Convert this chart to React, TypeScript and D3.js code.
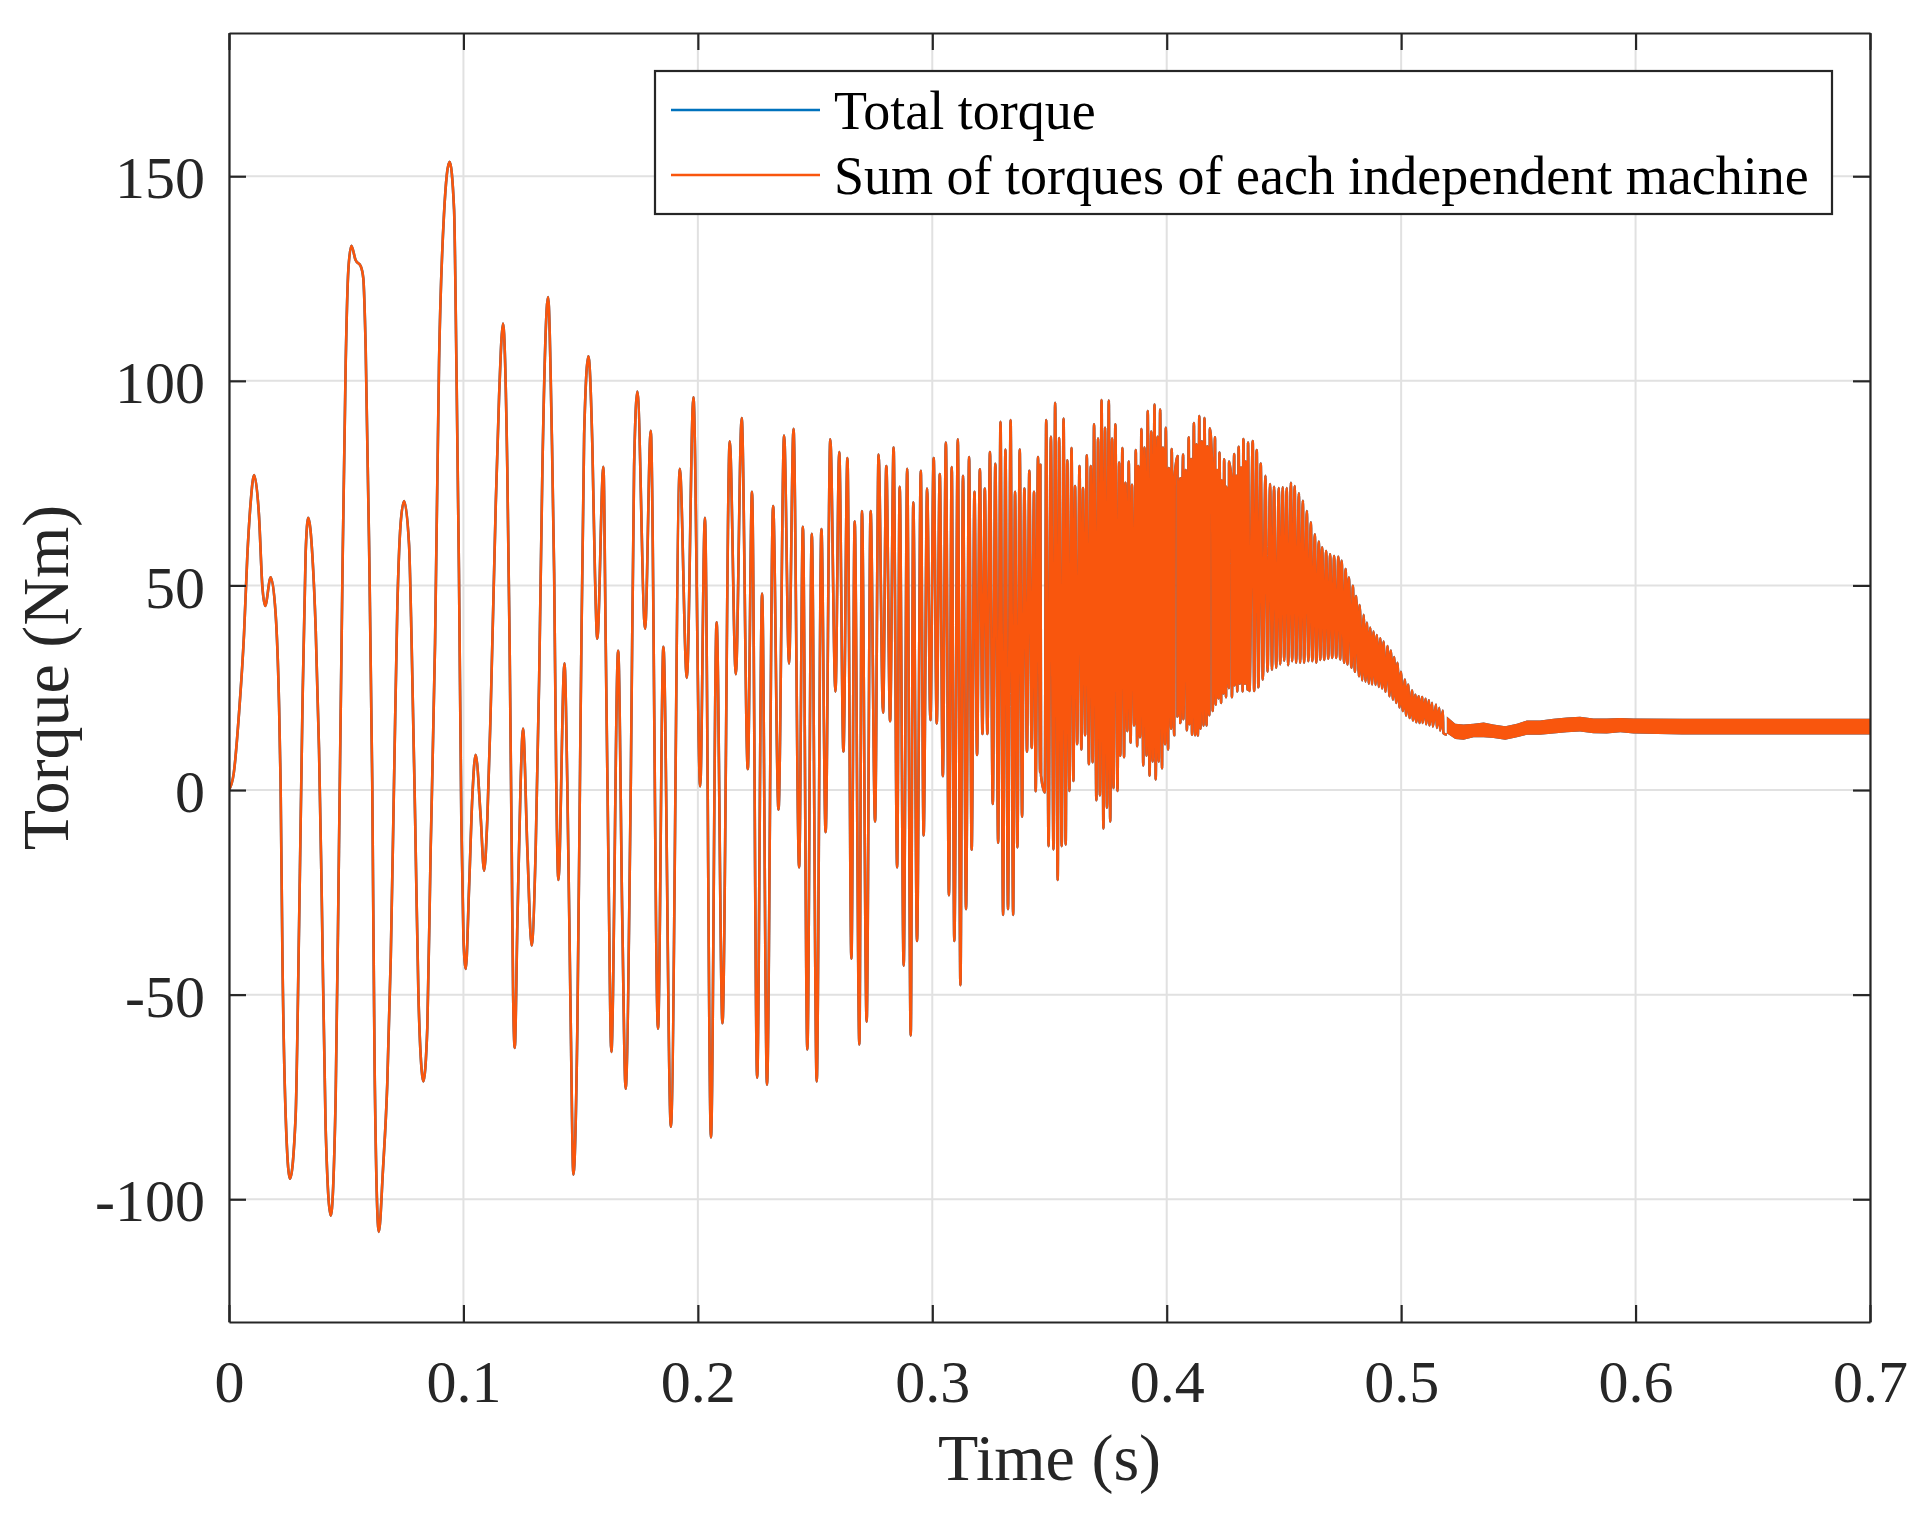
import { useEffect, useRef } from "react";
import * as d3 from "d3";

type Pt = [number, number];

const xTicks = [0, 0.1, 0.2, 0.3, 0.4, 0.5, 0.6, 0.7];
const yTicks = [-100, -50, 0, 50, 100, 150];

const seriesNames = ["Total torque", "Sum of torques of each independent machine"];
const seriesColors = ["#0072bd", "#f9560d"];

// start-up swing (t in s, torque in Nm)
const earlyPts: Pt[] = [
  [0, 0], [0.002, 4], [0.0043, 19], [0.0064, 38], [0.0078, 57], [0.0092, 70], [0.0107, 77],
  [0.0128, 67], [0.0142, 50], [0.0154, 45], [0.0178, 52], [0.0199, 43], [0.0213, 22], [0.022, 2],
  [0.0228, -41], [0.0242, -80], [0.026, -95], [0.0284, -80], [0.0299, -33], [0.0313, 19],
  [0.0327, 58], [0.0338, 66.5], [0.0356, 57], [0.037, 39], [0.0384, 10], [0.0395, -24],
  [0.0412, -82], [0.0434, -104], [0.0455, -75], [0.0469, -15], [0.0484, 53], [0.0498, 105],
  [0.0509, 127], [0.0522, 133], [0.054, 129.5], [0.0562, 128], [0.0573, 125], [0.0583, 108],
  [0.0597, 62], [0.0611, 2], [0.0621, -67], [0.0639, -108], [0.0657, -92.6], [0.0675, -72],
  [0.069, -41], [0.0704, 2], [0.0718, 44.6], [0.0732, 65], [0.0747, 70.6], [0.0768, 60],
  [0.0779, 36], [0.0794, -7], [0.0808, -50], [0.0822, -68.6], [0.0829, -71.2], [0.0846, -58],
  [0.086, -15], [0.0879, 36], [0.0896, 104.6], [0.0917, 140.6], [0.0941, 153.5], [0.096, 142],
  [0.097, 104.6], [0.0981, 53], [0.0991, -7], [0.1, -36], [0.101, -43.7], [0.1024, -24],
  [0.1038, -1.7], [0.1052, 8.6], [0.1074, -7], [0.1088, -19.7], [0.1102, -7], [0.1116, 19],
  [0.1138, 70], [0.1152, 96], [0.1169, 114], [0.1187, 79], [0.1197, 36], [0.1206, -15],
  [0.1212, -50], [0.1219, -63], [0.123, -33], [0.1244, 1.7], [0.1254, 15], [0.1273, -15],
  [0.1291, -38], [0.1308, -15], [0.1323, 27], [0.1337, 79], [0.1361, 120.5], [0.1377, 87],
  [0.1387, 53], [0.1396, 2], [0.1405, -22], [0.1431, 31], [0.1443, 2], [0.1458, -58],
  [0.1469, -94], [0.1486, -58], [0.15, 19], [0.1515, 87], [0.1533, 106], [0.155, 84],
  [0.1561, 53], [0.1571, 37], [0.1597, 79], [0.1607, 36], [0.1618, -15], [0.1631, -64],
  [0.166, 34], [0.1678, -33], [0.1692, -73], [0.1714, 2], [0.1728, 79], [0.1742, 97.4],
  [0.1775, 39.4],
];

// peaks and troughs of the middle stretch
const midPts: Pt[] = [
  [0.1799, 87.8], [0.183, -58.3], [0.1853, 35], [0.1885, -82.3], [0.1923, 78.5], [0.1953, 27.4],
  [0.1981, 96], [0.201, 0.9], [0.203, 66.5], [0.2056, -84.9], [0.208, 41], [0.2105, -57],
  [0.2136, 85.2], [0.2162, 28.3], [0.2187, 90.9], [0.2213, 5.1], [0.2231, 72.9], [0.2253, -70.3],
  [0.2274, 48], [0.2295, -72], [0.2321, 69.4], [0.2344, -4.8], [0.2368, 86.6], [0.2389, 30.9],
  [0.2408, 88.3], [0.2432, -18.9], [0.2448, 64.3], [0.2467, -63.4], [0.2486, 62.6], [0.2507, -71.2],
  [0.2527, 63.8], [0.2545, -10.3], [0.2565, 85.7], [0.2587, 24], [0.2603, 82.6], [0.2621, 9.4],
  [0.2638, 81.1], [0.2655, -41.2], [0.2669, 65.7], [0.2689, -62.2], [0.27, 68.2], [0.272, -56.6],
  [0.2737, 68.2], [0.2756, -7.7], [0.2771, 82], [0.279, 18.9], [0.2804, 79.2], [0.282, 16.8],
  [0.2835, 83.7], [0.285, -18.9], [0.2861, 74.1], [0.2878, -42.9], [0.2893, 78.5], [0.2908, -60],
  [0.2919, 70.3], [0.2935, -36.9], [0.2951, 78], [0.2963, -11.1], [0.2978, 73.7], [0.2992, 17.1],
  [0.3006, 81.1], [0.3019, 16.3], [0.3032, 77.2], [0.3045, 3.4], [0.3058, 84.9], [0.3071, -25.7],
  [0.3083, 78.9], [0.3094, -36.9], [0.3109, 85.7], [0.312, -47.7], [0.3131, 76.8], [0.3144, -29.1],
  [0.3157, 81.4], [0.3168, -14.6], [0.318, 72.9], [0.3191, 8.6], [0.3203, 78.4], [0.3214, 13.7],
  [0.3224, 73.7], [0.3235, 13.7], [0.3246, 82.6], [0.3258, -3.4], [0.3269, 79.7], [0.3281, -12.9],
  [0.3291, 90], [0.3302, -30.5], [0.3312, 83.2], [0.3323, -29.1], [0.3334, 90.4], [0.3345, -30.5],
  [0.3353, 72.9], [0.3363, -14], [0.3373, 83.2], [0.3383, -6.5], [0.3393, 73.7], [0.3404, 9.4],
  [0.3414, 78], [0.3424, 10.3], [0.3434, 72.9], [0.3441, -0.3], [0.3451, 81.4], [0.346, 4.3],
];

// dense stretch: tops of the ripple
const densePeaks: Pt[] = [
  [0.3461, 79.5], [0.3486, 90.4], [0.3506, 86.3], [0.3524, 94.6], [0.3541, 86], [0.356, 90.8],
  [0.3576, 80.6], [0.3594, 83.6], [0.3609, 74.3], [0.3628, 79.2], [0.3643, 73.8], [0.3659, 81.8],
  [0.3676, 79.2], [0.369, 89.4], [0.3707, 85.9], [0.3722, 95.3], [0.3737, 88.5], [0.3753, 95.2],
  [0.3767, 85.9], [0.3781, 89.4], [0.3797, 80], [0.3811, 83.6], [0.3824, 75.1], [0.3838, 80.3],
  [0.3852, 74.6], [0.3868, 83.1], [0.3879, 79.2], [0.3892, 88.2], [0.3905, 83.7], [0.3919, 92.6],
  [0.3934, 87.6], [0.3948, 94.2], [0.3961, 86.3], [0.3972, 93], [0.3984, 83.7], [0.3996, 88.5],
  [0.4009, 78.7], [0.4021, 83.3], [0.4034, 76.5], [0.4046, 81.6], [0.4058, 76.2], [0.407, 82],
  [0.4081, 78.2], [0.4094, 86.2], [0.4104, 80.9], [0.4116, 89.7], [0.4127, 84.5], [0.4139, 91.4],
  [0.415, 85.2], [0.4161, 90.9], [0.4173, 84], [0.4184, 88.4], [0.4194, 78.2], [0.4206, 86.2],
  [0.4215, 78.2], [0.4225, 82.5], [0.4235, 75.6], [0.4245, 80.8], [0.4255, 74.1], [0.4266, 80.3],
  [0.4276, 75.6], [0.4288, 82.1], [0.4297, 76.8], [0.4307, 83.9], [0.4317, 78.8], [0.4327, 85.8],
  [0.4337, 80.3], [0.4347, 84.9], [0.4367, 85.3], [0.4384, 83.1], [0.4401, 79.8], [0.4421, 76.8],
  [0.4441, 74.8], [0.4458, 74.1], [0.4478, 73.8], [0.4495, 74], [0.4512, 73.8], [0.453, 75.1],
  [0.4546, 74.3], [0.4564, 72.5], [0.4581, 70.7], [0.4598, 68.2], [0.4615, 65.4], [0.4632, 62.5],
  [0.4649, 60.7], [0.4663, 59.3], [0.468, 58.4], [0.4697, 57.6], [0.4714, 57.2], [0.4732, 57],
  [0.4746, 56], [0.4763, 54], [0.4777, 51.9], [0.4794, 49.9], [0.4808, 47.4], [0.4823, 45.2],
  [0.484, 42.8], [0.4854, 40.9], [0.4868, 39.7], [0.4882, 38.7], [0.4896, 37.9], [0.4911, 37.1],
  [0.4925, 36.3], [0.4942, 35.2], [0.4956, 34.1], [0.497, 32.5], [0.4984, 31.1], [0.4999, 28.9],
  [0.5016, 27], [0.503, 25.8], [0.5047, 24.3], [0.5061, 23.3], [0.5075, 22.9], [0.509, 22.7],
  [0.5104, 22.3], [0.5118, 21.9], [0.5132, 21.3], [0.5149, 20.9], [0.5163, 20.1], [0.5178, 19.4],
];

// dense stretch: bottoms of the ripple
const denseTroughs: Pt[] = [
  [0.3464, 3.5], [0.348, -0.6], [0.3496, -13.7], [0.3517, -14.5], [0.3535, -22], [0.3552, -13.7],
  [0.3569, -13.3], [0.3585, -0.2], [0.3602, 2.2], [0.3618, 11.2], [0.3636, 9.9], [0.3652, 13.4],
  [0.3668, 6.3], [0.3684, 6.8], [0.37, -2.5], [0.3715, -1.3], [0.373, -9.4], [0.3745, -4.3],
  [0.3759, -7.7], [0.3773, 0.5], [0.379, -0.2], [0.3802, 8.4], [0.3818, 8], [0.3832, 14.4],
  [0.3846, 11.6], [0.3861, 15.8], [0.3874, 10.7], [0.3886, 12.9], [0.39, 6], [0.3914, 8.4],
  [0.3927, 3.5], [0.394, 7], [0.3953, 2.6], [0.3966, 7], [0.398, 5.3], [0.3993, 11.2],
  [0.4006, 9.9], [0.4019, 15], [0.4032, 13.4], [0.4046, 18], [0.4058, 16.4], [0.4071, 17.3],
  [0.4086, 14.6], [0.4097, 16.1], [0.4108, 13.5], [0.4121, 13.4], [0.4133, 13.3], [0.4144, 15],
  [0.4157, 15.8], [0.417, 15.8], [0.4182, 18.3], [0.4196, 19.3], [0.4209, 20.9], [0.4221, 22.4],
  [0.4232, 21.3], [0.4242, 23.6], [0.4253, 22.7], [0.4265, 24.9], [0.4278, 22.7], [0.4289, 25.6],
  [0.4301, 24.1], [0.4312, 26], [0.4324, 24.1], [0.4334, 26], [0.4345, 24.5], [0.4353, 24.2],
  [0.4373, 24.2], [0.4391, 25.1], [0.441, 27], [0.443, 28.9], [0.4449, 29.4], [0.4467, 29.9],
  [0.4484, 30.7], [0.4501, 31.6], [0.4518, 30.5], [0.4535, 31.5], [0.4552, 31.1], [0.4569, 31.1],
  [0.4586, 31.1], [0.4604, 31.5], [0.4621, 31.5], [0.4638, 31.1], [0.4655, 31.8], [0.4672, 31.8],
  [0.4689, 32.1], [0.4706, 32.3], [0.4723, 32.3], [0.474, 31.9], [0.4757, 31.1], [0.4771, 30.7],
  [0.4788, 29.9], [0.4803, 28.9], [0.482, 27.8], [0.4834, 26.8], [0.4848, 26.5], [0.4862, 26],
  [0.4876, 25.8], [0.4891, 25.7], [0.4905, 25.2], [0.4919, 24.8], [0.4933, 24], [0.495, 22.9],
  [0.4965, 22.1], [0.4979, 21.3], [0.4993, 20.2], [0.5007, 19.3], [0.5021, 18.2], [0.5036, 17.6],
  [0.505, 17], [0.5064, 16.6], [0.5078, 16.4], [0.5092, 16.4], [0.5107, 16.1], [0.5121, 15.8],
  [0.5135, 15.5], [0.5152, 15.2], [0.5166, 14.5], [0.518, 13.9], [0.5195, 13.5],
];

// steady state: the ripple is too fine to separate, so keep its band edges
const tailTimes = [0.5195, 0.5231, 0.5266, 0.5309, 0.5352, 0.5394, 0.5444, 0.5494, 0.5536, 0.5593,
  0.565, 0.5707, 0.5763, 0.582, 0.5877, 0.5935, 0.5991, 0.62, 0.65, 0.68, 0.7];
const tailUpper = [18.0, 16.2, 16.0, 16.2, 16.5, 16.0, 15.6, 16.2, 17.0, 17.0,
  17.4, 17.7, 17.9, 17.5, 17.5, 17.6, 17.5, 17.4, 17.4, 17.4, 17.4];
const tailLower = [13.9, 12.5, 12.3, 12.9, 12.9, 12.7, 12.3, 12.9, 13.5, 13.5,
  13.8, 14.1, 14.3, 13.9, 13.8, 14.1, 13.8, 13.6, 13.6, 13.6, 13.6];

export default function App() {
  const containerRef = useRef<HTMLDivElement | null>(null);

  useEffect(() => {
    if (!containerRef.current) return;
    const r = containerRef.current;
    r.innerHTML = "";

    const width = 1923;
    const height = 1515;
    const margin = { top: 33, right: 53, bottom: 193, left: 229 };
    const innerWidth = width - margin.left - margin.right;
    const innerHeight = height - margin.top - margin.bottom;
    const font = "'Liberation Serif', 'Times New Roman', serif";
    const ink = "#262626";

    const svg = d3.select(r)
      .append("svg")
      .attr("width", width)
      .attr("height", height)
      .style("position", "absolute")
      .style("left", "0px")
      .style("top", "0px")
      .style("background", "#fff");

    const x = d3.scaleLinear().domain([0, 0.7]).range([0, innerWidth]);
    const y = d3.scaleLinear().domain([-130, 185]).range([innerHeight, 0]);

    const g = svg.append("g")
      .attr("transform", `translate(${margin.left},${margin.top})`);

    // grid
    g.append("g").selectAll("line").data(xTicks).join("line")
      .attr("x1", d => x(d)).attr("x2", d => x(d))
      .attr("y1", 0).attr("y2", innerHeight)
      .attr("stroke", "#e1e1e1").attr("stroke-width", 2);
    g.append("g").selectAll("line").data(yTicks).join("line")
      .attr("x1", 0).attr("x2", innerWidth)
      .attr("y1", d => y(d)).attr("y2", d => y(d))
      .attr("stroke", "#e1e1e1").attr("stroke-width", 2);

    svg.append("defs").append("clipPath").attr("id", "plotClip")
      .append("rect").attr("width", innerWidth).attr("height", innerHeight);

    const linePts: Pt[] = [...earlyPts, ...midPts, ...densePeaks, ...denseTroughs]
      .sort((a, b) => a[0] - b[0]);

    const line = d3.line<Pt>()
      .x(d => x(d[0]))
      .y(d => y(d[1]))
      .curve(d3.curveMonotoneX);

    const band = d3.area<number>()
      .x(i => x(tailTimes[i]))
      .y0(i => y(tailLower[i]))
      .y1(i => y(tailUpper[i]));

    const plot = g.append("g").attr("clip-path", "url(#plotClip)");
    seriesColors.forEach(c => {
      plot.append("path")
        .datum(linePts)
        .attr("fill", "none")
        .attr("stroke", c)
        .attr("stroke-width", 2.6)
        .attr("stroke-linejoin", "round")
        .attr("d", line);
      plot.append("path")
        .datum(d3.range(tailTimes.length))
        .attr("fill", c)
        .attr("d", band);
    });

    // axes, ticks pointing inwards on all four sides
    const fmt = (d: d3.NumberValue) => String(d);
    g.append("g")
      .attr("transform", `translate(0,${innerHeight})`)
      .call(d3.axisBottom(x).tickValues(xTicks).tickSize(-17).tickSizeOuter(0).tickPadding(37).tickFormat(fmt));
    g.append("g")
      .call(d3.axisLeft(y).tickValues(yTicks).tickSize(-17).tickSizeOuter(0).tickPadding(24).tickFormat(fmt));
    g.append("g")
      .call(d3.axisTop(x).tickValues(xTicks).tickSize(-17).tickSizeOuter(0).tickFormat(() => ""));
    g.append("g")
      .attr("transform", `translate(${innerWidth},0)`)
      .call(d3.axisRight(y).tickValues(yTicks).tickSize(-17).tickSizeOuter(0).tickFormat(() => ""));

    g.selectAll(".domain, .tick line").attr("stroke", ink).attr("stroke-width", 2.2);
    g.selectAll(".tick text")
      .attr("fill", ink)
      .style("font-family", font)
      .style("font-size", "60px");
    g.selectAll(".tick text").filter(function () {
      return (this as SVGTextElement).getAttribute("x") !== null &&
        (this as SVGTextElement).getAttribute("x")!.startsWith("-");
    }).attr("dy", "0.36em");

    // axis labels
    svg.append("text")
      .attr("x", margin.left + innerWidth / 2)
      .attr("y", 1480)
      .attr("text-anchor", "middle")
      .attr("fill", ink)
      .style("font-family", font)
      .style("font-size", "66px")
      .text("Time (s)");
    svg.append("text")
      .attr("transform", `translate(68,${margin.top + innerHeight / 2}) rotate(-90)`)
      .attr("text-anchor", "middle")
      .attr("fill", ink)
      .style("font-family", font)
      .style("font-size", "66px")
      .text("Torque (Nm)");

    // legend
    const lg = svg.append("g").attr("transform", "translate(655,71)");
    lg.append("rect")
      .attr("width", 1177).attr("height", 143)
      .attr("fill", "#fff").attr("stroke", ink).attr("stroke-width", 2.2);
    seriesNames.forEach((name, i) => {
      const ly = 39 + i * 65;
      lg.append("line")
        .attr("x1", 16).attr("x2", 165)
        .attr("y1", ly).attr("y2", ly)
        .attr("stroke", seriesColors[i]).attr("stroke-width", 2.6);
      lg.append("text")
        .attr("x", 179).attr("y", ly + 19)
        .attr("fill", "#000")
        .style("font-family", font)
        .style("font-size", "54px")
        .text(name);
    });
  }, []);

  return <div ref={containerRef} style={{ width: 1923, height: 1515 }} />;
}
